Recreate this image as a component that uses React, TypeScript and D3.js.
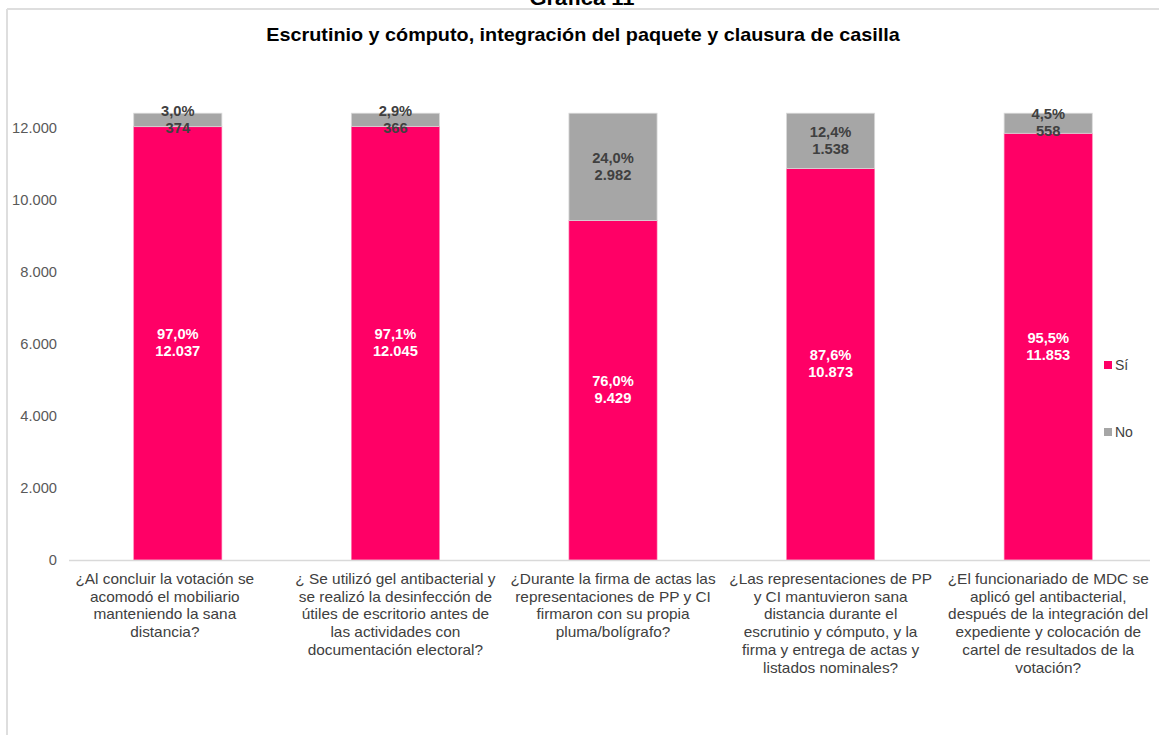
import React from 'react';
import * as d3 from 'd3';

const categories = [
  ['¿Al concluir la votación se', 'acomodó el mobiliario', 'manteniendo la sana', 'distancia?'],
  ['¿ Se utilizó gel antibacterial y', 'se realizó la desinfección de', 'útiles de escritorio antes de', 'las actividades con', 'documentación electoral?'],
  ['¿Durante la firma de actas las', 'representaciones de PP y CI', 'firmaron con su propia', 'pluma/bolígrafo?'],
  ['¿Las representaciones de PP', 'y CI mantuvieron sana', 'distancia durante el', 'escrutinio y cómputo, y la', 'firma y entrega de actas y', 'listados nominales?'],
  ['¿El funcionariado de MDC se', 'aplicó gel antibacterial,', 'después de la integración del', 'expediente y colocación de', 'cartel de resultados de la', 'votación?'],
];
const siValues = [12037, 12045, 9429, 10873, 11853];
const noValues = [374, 366, 2982, 1538, 558];
const siPct = ['97,0%', '97,1%', '76,0%', '87,6%', '95,5%'];
const noPct = ['3,0%', '2,9%', '24,0%', '12,4%', '4,5%'];
const yTicks = [0, 2000, 4000, 6000, 8000, 10000, 12000];

const PINK = '#ff0066';
const GRAY = '#a6a6a6';
const FONT = '"Liberation Sans", Arial, sans-serif';
const SX = 1.1; // the source text looks a bit stretched sideways

const fmt = (v: number) => d3.format(',')(v).replace(/,/g, '.');

export default function App() {
  const W = 1159;
  const H = 735;
  const x = d3.scaleBand<number>()
    .domain(d3.range(categories.length))
    .range([69, 1157])
    .paddingInner(0.595)
    .paddingOuter(0.2975);
  const y = d3.scaleLinear().domain([0, 12000]).range([560, 128]);
  // in the source the first label sits a little left of its bar
  const labelX = (i: number) => x(i)! + x.bandwidth() / 2 - (i === 0 ? 13 : 0);

  return (
    <svg width={W} height={H} style={{ position: 'absolute', left: 0, top: 0, fontFamily: FONT }}>
      <rect width={W} height={H} fill="#fff" />
      {/* heading, cut off at the top like the source */}
      <g transform={`translate(582,5) scale(${SX},1)`}>
        <text x={0} y={0} textAnchor="middle" fontSize={20} fontWeight="bold" fill="#000">Gráfica 11</text>
      </g>
      {/* frame */}
      <line x1={7} x2={W} y1={9} y2={9} stroke="#dedede" strokeWidth={2} />
      <line x1={7} x2={7} y1={9} y2={H} stroke="#dedede" strokeWidth={2} />

      <g transform={`translate(583,41) scale(${SX},1)`}>
        <text x={0} y={0} textAnchor="middle" fontSize={18} fontWeight="bold" fill="#000">
          Escrutinio y cómputo, integración del paquete y clausura de casilla
        </text>
      </g>

      {/* y axis labels */}
      {yTicks.map(t => (
        <g key={t} transform={`translate(57,${y(t)}) scale(1.05,1)`}>
          <text x={0} y={0} dy="0.35em" textAnchor="end" fontSize={14} fill="#595959">{fmt(t)}</text>
        </g>
      ))}

      {/* bars */}
      {siValues.map((si, i) => {
        const no = noValues[i];
        const bx = x(i)!;
        const bw = x.bandwidth();
        const cx = bx + bw / 2;
        const siTop = y(si);
        const noTop = y(si + no);
        const siMid = (y(0) + siTop) / 2;
        const noMid = (siTop + noTop) / 2;
        return (
          <g key={i}>
            <rect x={bx} y={siTop} width={bw} height={y(0) - siTop} fill={PINK} stroke="#ff7fb2" strokeWidth={0.6} />
            <rect x={bx} y={noTop} width={bw} height={siTop - noTop} fill={GRAY} stroke="#d9d9d9" strokeWidth={0.8} />
            <g transform={`translate(${cx},0) scale(1.05,1)`} textAnchor="middle" fontSize={14} fontWeight="bold">
              <text x={0} y={siMid - 9} dy="0.35em" fill="#fff">{siPct[i]}</text>
              <text x={0} y={siMid + 8} dy="0.35em" fill="#fff">{fmt(si)}</text>
              <text x={0} y={noMid - 9} dy="0.35em" fill="#404040">{noPct[i]}</text>
              <text x={0} y={noMid + 8} dy="0.35em" fill="#404040">{fmt(no)}</text>
            </g>
          </g>
        );
      })}

      {/* baseline */}
      <line x1={69} x2={1150} y1={y(0) + 0.5} y2={y(0) + 0.5} stroke="#d9d9d9" strokeWidth={1.5} />

      {/* category labels */}
      {categories.map((lines, i) => (
        <g key={i} transform={`translate(${labelX(i)},0) scale(${SX},1)`}>
          <text textAnchor="middle" fontSize={14} fill="#404040">
            {lines.map((l, j) => (
              <tspan key={j} x={0} y={579 + j * 17.8} dy="0.35em">{l}</tspan>
            ))}
          </text>
        </g>
      ))}

      {/* legend */}
      <rect x={1104} y={361} width={8} height={8} fill={PINK} />
      <text x={1115} y={365} dy="0.35em" fontSize={14} fill="#404040">Sí</text>
      <rect x={1104} y={428} width={8} height={8} fill={GRAY} />
      <text x={1115} y={432} dy="0.35em" fontSize={14} fill="#404040">No</text>
    </svg>
  );
}
